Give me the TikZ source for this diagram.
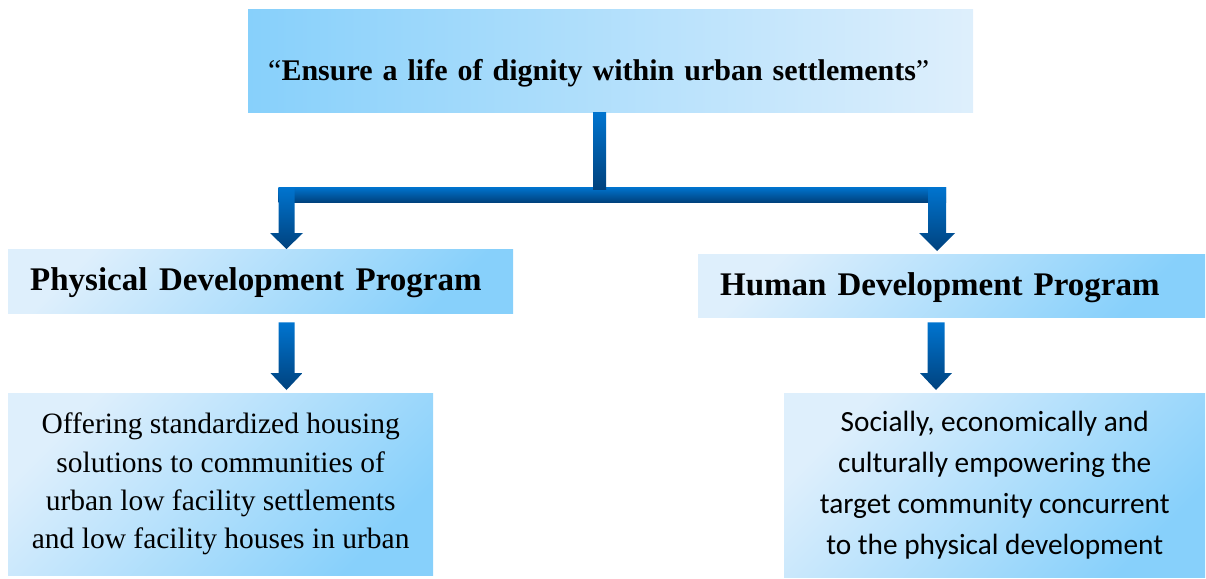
\documentclass[tikz,border=0pt]{standalone}
\usepackage{fontspec}
\setmainfont{Liberation Serif}
\newfontfamily\tnr{Liberation Serif}
\newfontfamily\calib{Carlito}
\usetikzlibrary{calc}
\definecolor{bdark}{RGB}{135,208,251}
\definecolor{blight}{RGB}{222,239,252}
\definecolor{atop}{RGB}{0,116,207}
\definecolor{abot}{RGB}{0,66,126}
\newcommand{\shaftarrow}[5]{%
  \path[vshade] let \p1=(#1), \p2=(#2) in
    (\x1-#3pt,\y1) -- (\x1-#3pt,\y2+#5pt) -- (\x1-#4pt,\y2+#5pt) -- (\x2,\y2)
    -- (\x1+#4pt,\y2+#5pt) -- (\x1+#3pt,\y2+#5pt) -- (\x1+#3pt,\y1) -- cycle;}
\begin{document}
\begin{tikzpicture}[x=1pt,y=-1pt,
  boxdiag/.style={shading=axis, top color=blight, bottom color=bdark, shading angle=45,
    anchor=north west, inner ysep=0pt},
  vshade/.style={top color=atop, bottom color=abot, draw=none}]
\useasboundingbox (0,0) rectangle (1206,578);

% boxes
\node[anchor=north west, shading=axis, left color=bdark, right color=blight,
  minimum width=725pt, inner xsep=20pt, inner ysep=0pt, text width=685pt, align=left,
  text height=71pt, text depth=32pt, font=\tnr\fontsize{30}{36}\selectfont]
  (top) at (248,9) {“\textbf{Ensure a life of dignity within urban settlements}”};

\node[boxdiag, minimum width=505pt, inner xsep=22pt, text width=461pt, align=left,
  text height=41pt, text depth=23pt, font=\tnr\fontsize{33}{40}\selectfont\bfseries]
  (phys) at (8,249) {Physical\hspace{0.5pt} Development\hspace{0.5pt} Program};

\node[boxdiag, minimum width=507pt, inner xsep=22pt, text width=463pt, align=left,
  text height=41pt, text depth=22pt, font=\tnr\fontsize{33}{40}\selectfont\bfseries]
  (human) at (698,254) {Human Development Program};

\node[boxdiag, minimum width=425pt, minimum height=182pt, inner xsep=0pt, align=center,
  font=\tnr\fontsize{29.5}{38.3}\selectfont]
  (offer) at (8,393) {Offering standardized housing\\solutions to communities of\\urban low facility settlements\\and low facility houses in urban};

\node[boxdiag, minimum width=421pt, minimum height=184pt, inner xsep=0pt, align=center,
  font=\calib\fontsize{29.3}{41}\selectfont]
  (social) at (784,393) {Socially, economically and\\culturally empowering the\\target community concurrent\\to the physical development};

% connectors
\coordinate (hub) at (599.5,187);
\coordinate (lt) at (286.5,187);
\coordinate (rt) at (937,187);
\path[vshade] ($(lt)+(-8,0)$) rectangle ($(rt)+(9,15)$);
\path[vshade] ($(hub|-top.south)+(-6.5,0)$) rectangle ($(hub)+(6.5,2)$);
\shaftarrow{lt}{lt|-phys.north}{8}{16.5}{16}
\shaftarrow{rt}{$(rt|-human.north)+(0,-3)$}{9}{18}{18}
\shaftarrow{$(lt|-phys.south)+(0,9)$}{$(lt|-offer.north)+(0,-3)$}{8}{16}{17}
\shaftarrow{$(936,0|-human.south)+(0,5)$}{$(936,0|-social.north)+(0,-3)$}{8.5}{16}{17}
\end{tikzpicture}
\end{document}
